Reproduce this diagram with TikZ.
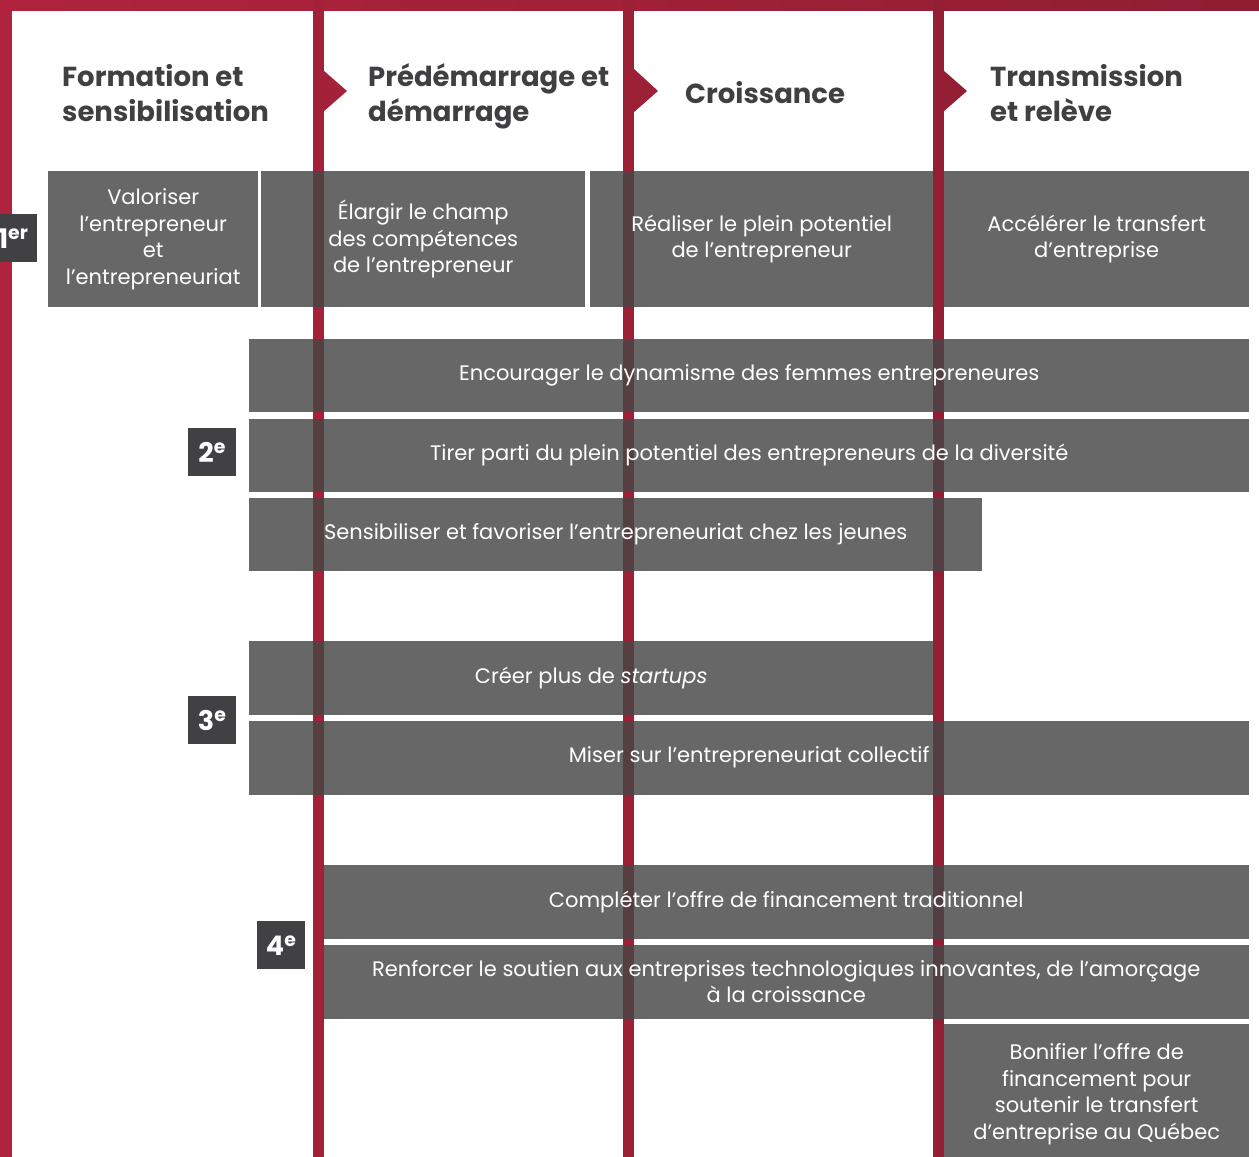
\documentclass[tikz,border=0pt]{standalone}
\usepackage{fontspec}
\setmainfont{Poppins}
\usetikzlibrary{positioning}
\definecolor{bandleft}{HTML}{B0233D}
\definecolor{bandright}{HTML}{8F1E33}
\definecolor{barone}{HTML}{A3223A}
\definecolor{bartwo}{HTML}{9C2137}
\definecolor{barthree}{HTML}{941F35}
\definecolor{goalgray}{RGB}{70,70,70}
\definecolor{rankgray}{HTML}{414143}
\definecolor{headgray}{HTML}{404042}
\tikzstyle{goal} = [rectangle, fill=goalgray, fill opacity=0.825, text opacity=1, text=white, inner sep=0pt, align=center, anchor=north west, font=\fontsize{21}{26.5}\selectfont]
\tikzstyle{rank} = [rectangle, fill=rankgray, text=white, minimum width=48, minimum height=48, inner sep=0pt, anchor=north west, font=\fontsize{27}{30}\bfseries\selectfont]
\tikzstyle{phase} = [anchor=base west, align=left, text=headgray, inner sep=0pt, font=\fontsize{27.5}{35}\bfseries\selectfont]

\begin{document}
\begin{tikzpicture}[x=1pt, y=-1pt]
    \useasboundingbox (0,0) rectangle (1259,1157);

    \shade[left color=bandleft, right color=bandright] (0,0) rectangle (1259,10);
    \fill[bandleft] (0,0) rectangle (12,1157);
    \fill[barone] (313,0) rectangle (324,1157);
    \fill[bartwo] (623,0) rectangle (634,1157);
    \fill[barthree] (933,0) rectangle (944,1157);

    \fill[barone] (323,70) -- (347,91) -- (323,112) -- cycle;
    \fill[bartwo] (633,68) -- (658,91) -- (633,113) -- cycle;
    \fill[barthree] (943,70) -- (967,91) -- (943,112) -- cycle;

    \node (formation) [phase] at (62,121) {Formation et\\sensibilisation};
    \node (predem) [phase] at (368,121) {Prédémarrage et\\démarrage};
    \node (croiss) [phase] at (685,103) {Croissance};
    \node (transm) [phase] at (990,121) {Transmission\\et relève};

    \node (valor) [goal, minimum width=210, minimum height=136] at (48,171) {Valoriser\\l’entrepreneur\\et\\l’entrepreneuriat};
    \node (elargir) [goal, minimum width=324, minimum height=136] at (261,171) {Élargir le champ\\des compétences\\de l’entrepreneur};
    \node (realis) [goal, minimum width=343, minimum height=136] at (590,171) {Réaliser le plein potentiel\\de l’entrepreneur};
    \node (accel) [goal, minimum width=305, minimum height=136] at (944,171) {Accélérer le transfert\\d’entreprise};

    \node (femmes) [goal, minimum width=1000, minimum height=73] at (249,339) {Encourager le dynamisme des femmes entrepreneures};
    \node (diversite) [goal, minimum width=1000, minimum height=73, below=6pt of femmes.south west, anchor=north west] {Tirer parti du plein potentiel des entrepreneurs de la diversité};
    \node (jeunes) [goal, minimum width=733, minimum height=73, below=6pt of diversite.south west, anchor=north west] {Sensibiliser et favoriser l’entrepreneuriat chez les jeunes};

    \node (startups) [goal, minimum width=684, minimum height=74] at (249,641) {Créer plus de \textit{startups}};
    \node (collectif) [goal, minimum width=1000, minimum height=74, below=5pt of startups.south west, anchor=north west] {Miser sur l’entrepreneuriat collectif};

    \node (financ) [goal, minimum width=926, minimum height=74] at (323,865) {Compléter l’offre de financement traditionnel};
    \node (technos) [goal, minimum width=926, minimum height=74, below=5pt of financ.south west, anchor=north west] {Renforcer le soutien aux entreprises technologiques innovantes, de l’amorçage\\à la croissance};
    \node (transfert) [goal, minimum width=305, minimum height=140] at (944,1024) {Bonifier l’offre de\\financement pour\\soutenir le transfert\\d’entreprise au Québec};

    \node (r1) [rank] at (-11,214) {1\textsuperscript{er}};
    \node (r2) [rank] at (188,428) {2\textsuperscript{e}};
    \node (r3) [rank] at (188,696) {3\textsuperscript{e}};
    \node (r4) [rank] at (257,921) {4\textsuperscript{e}};

\end{tikzpicture}
\end{document}
